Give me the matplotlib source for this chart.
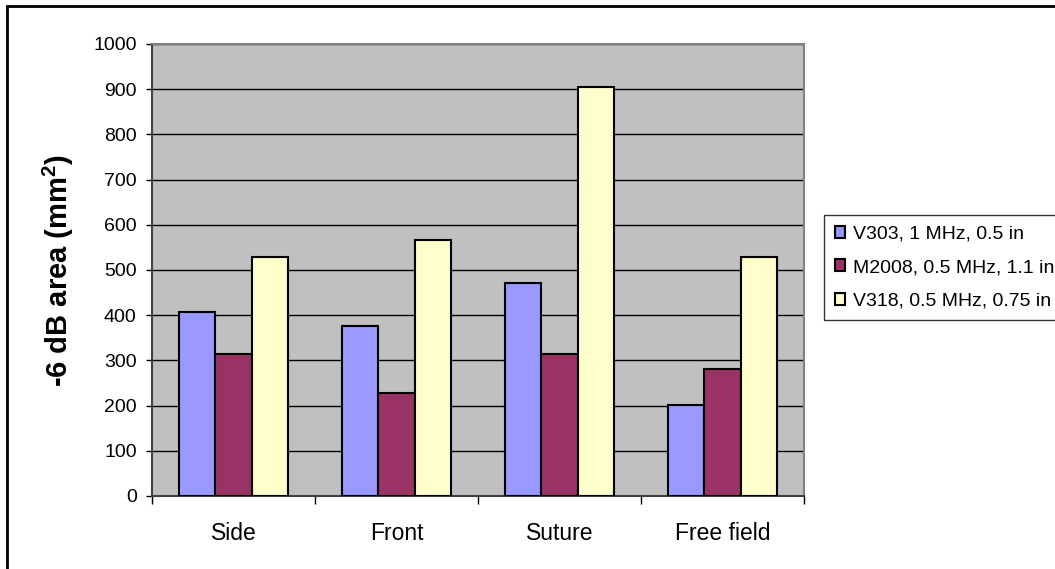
import matplotlib
matplotlib.use("Agg")
import matplotlib.pyplot as plt
from matplotlib.patches import Rectangle
import numpy as np

plt.rcParams['font.family'] = ['Liberation Sans', 'DejaVu Sans']
plt.rcParams['mathtext.fontset'] = 'custom'
plt.rcParams['mathtext.bf'] = 'Liberation Sans:bold'
plt.rcParams['mathtext.rm'] = 'Liberation Sans'

# -6 dB focal area for each transducer and location
categories = ['Side', 'Front', 'Suture', 'Free field']
series_names = ['V303, 1 MHz, 0.5 in', 'M2008, 0.5 MHz, 1.1 in', 'V318, 0.5 MHz, 0.75 in']
v303 = [408, 376, 471, 202]
m2008 = [314, 227, 314, 281]
v318 = [529, 566, 905, 529]
colors = ['#9999FF', '#993366', '#FFFFCC']

W, H = 1055, 569
fig = plt.figure(figsize=[W / 100, H / 100], dpi=100)
ax = fig.add_axes([152 / W, (H - 496) / H, 652 / W, 452 / H])
ax.set_facecolor('#C0C0C0')

x = np.arange(len(categories))
bw = 1 / 4.5
for i, (vals, name, c) in enumerate(zip([v303, m2008, v318], series_names, colors)):
    ax.bar(x + (i - 1) * bw, vals, bw, color=c, edgecolor='black', linewidth=1.5,
           label=name, zorder=3)

ax.set_xlim(-0.5, 3.5)
ax.set_ylim(0, 1000)
ax.set_yticks(np.arange(0, 1001, 100))
ax.yaxis.grid(True, color='black', linewidth=1.0, zorder=1)
ax.set_axisbelow(True)

ax.set_xticks(x)
ax.set_xticklabels(categories, fontsize=16.5)
ax.set_xticks(np.arange(-0.5, 4.0, 1.0), minor=True)
ax.tick_params(axis='x', which='major', length=0, pad=19)
ax.tick_params(axis='x', which='minor', length=6, width=1, direction='out')
ax.tick_params(axis='y', length=4, width=1, direction='out', labelsize=14, pad=7)

for s in ['top', 'right']:
    ax.spines[s].set_color('#808080')
    ax.spines[s].set_linewidth(1.5)
for s in ['left', 'bottom']:
    ax.spines[s].set_color('#404040')
    ax.spines[s].set_linewidth(1.5)

ax.set_ylabel(r'-6 dB area (mm$^{\mathbf{2}}$)', fontsize=21, fontweight='bold')
ax.yaxis.set_label_coords((76 - 152) / 652, 0.5)

leg = fig.legend(loc='upper left', bbox_to_anchor=(824 / W, 1 - 215 / H),
                 fontsize=14, frameon=True, fancybox=False, edgecolor='black',
                 handlelength=0.55, handleheight=0.55, handletextpad=0.4,
                 labelspacing=0.85, borderpad=0.55, borderaxespad=0)
leg.get_frame().set_linewidth(1.0)

# outer chart border
fig.add_artist(Rectangle((7 / W, -0.1), 1.2, 1 - 6 / H + 0.1, transform=fig.transFigure,
                         fill=False, edgecolor='black', linewidth=2))

fig.savefig('out.png', dpi=100)
